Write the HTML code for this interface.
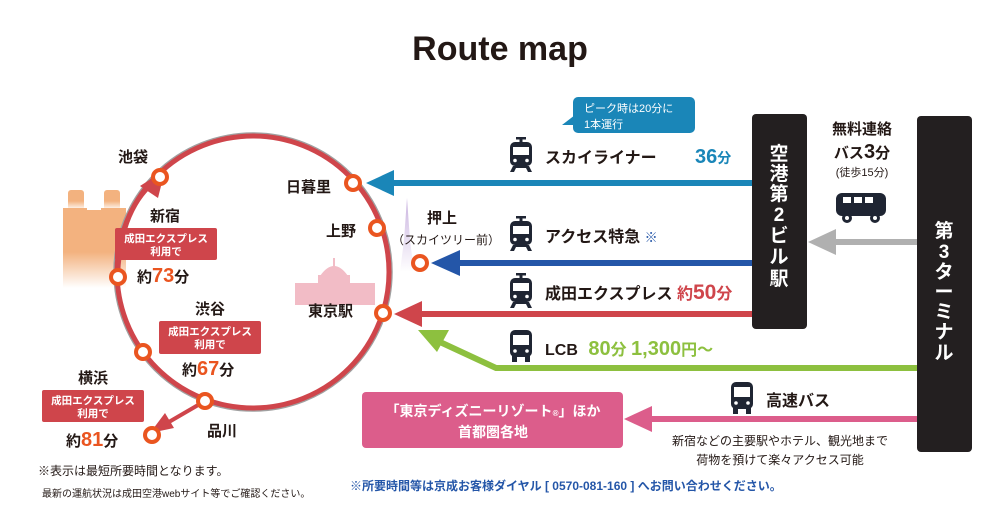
<!DOCTYPE html>
<html><head><meta charset="utf-8"><style>
html,body{margin:0;padding:0;background:#fff}
svg text{font-family:"Liberation Sans","Noto Sans CJK JP",sans-serif}
</style></head><body>
<svg width="1001" height="521" viewBox="0 0 1001 521" xmlns="http://www.w3.org/2000/svg">
<defs>
<symbol id="train" viewBox="0 0 26 36">
<rect x="8" y="0" width="10" height="2.5" fill="#1f2533"/>
<rect x="11.5" y="1" width="3" height="4" fill="#1f2533"/>
<rect x="2" y="5" width="22" height="24" rx="5" fill="#1f2533"/>
<rect x="5" y="10" width="16" height="8" fill="#fff"/>
<circle cx="7" cy="23.5" r="1.8" fill="#fff"/><circle cx="19" cy="23.5" r="1.8" fill="#fff"/>
<path d="M5 29 L2 35 H6 L8 31 H18 L20 35 H24 L21 29Z" fill="#1f2533"/>
</symbol>
<symbol id="bus" viewBox="0 0 26 32">
<rect x="2" y="0" width="22" height="27" rx="5" fill="#1f2533"/>
<rect x="5" y="5" width="16" height="10" fill="#fff"/>
<circle cx="7" cy="21" r="1.8" fill="#fff"/><circle cx="19" cy="21" r="1.8" fill="#fff"/>
<rect x="4" y="26" width="5" height="6" fill="#1f2533"/><rect x="17" y="26" width="5" height="6" fill="#1f2533"/>
</symbol>
<linearGradient id="og" x1="0" y1="0" x2="0" y2="1"><stop offset="0.55" stop-color="#f3b27f"/><stop offset="1" stop-color="#fff"/></linearGradient>
<linearGradient id="pg" x1="0" y1="0" x2="0" y2="1"><stop offset="0" stop-color="#c9b3df"/><stop offset="1" stop-color="#fff"/></linearGradient>
</defs>

<text x="500" y="60" font-size="34" font-weight="bold" text-anchor="middle" fill="#231815">Route map</text>

<!-- Tocho building -->
<g fill="url(#og)">
<rect x="68" y="190" width="16" height="20" rx="3"/>
<rect x="104" y="190" width="16" height="20" rx="3"/>
<rect x="63" y="208" width="63" height="80"/>
</g>
<rect x="87" y="196" width="14" height="14" fill="#fff"/>
<!-- skytree -->
<path d="M407 198 L404 240 L400 272 L414 272 L410 240Z" fill="url(#pg)"/>
<!-- Tokyo station -->
<g fill="#f2bcc6">
<rect x="295" y="283" width="80" height="22"/>
<rect x="318" y="275" width="32" height="10"/>
<path d="M320 276 q14-20 28 0z"/>
<rect x="333" y="258" width="2" height="10"/>
</g>

<!-- ring -->
<circle cx="253" cy="272" r="139" fill="none" stroke="#a0a0a0" stroke-width="1.5"/>
<circle cx="253" cy="272" r="136" fill="none" stroke="#cf454b" stroke-width="5"/>

<path d="M118 277 Q120 215 150 186" fill="none" stroke="#cf454b" stroke-width="4"/>
<path d="M165 170 L140 186 L158 198Z" fill="#cf454b"/>
<path d="M205 401 L162 426" fill="none" stroke="#cf454b" stroke-width="4"/>
<path d="M150 433 L165 413 L174 428Z" fill="#cf454b"/>

<g fill="#fff" stroke="#ea5520" stroke-width="4">
<circle cx="160" cy="177" r="7"/>
<circle cx="353" cy="183" r="7"/>
<circle cx="377" cy="228" r="7"/>
<circle cx="118" cy="277" r="7"/>
<circle cx="383" cy="313" r="7"/>
<circle cx="143" cy="352" r="7"/>
<circle cx="205" cy="401" r="7"/>
<circle cx="152" cy="435" r="7"/>
<circle cx="420" cy="263" r="7"/>
</g>

<g font-size="15" fill="#231815" font-weight="bold">
<text x="118" y="162">池袋</text>
<text x="286" y="192">日暮里</text>
<text x="326" y="236">上野</text>
<text x="427" y="223">押上</text>
<text x="308" y="316">東京駅</text>
<text x="150" y="221">新宿</text>
<text x="195" y="314">渋谷</text>
<text x="78" y="383">横浜</text>
<text x="207" y="436">品川</text>
</g>
<text x="392" y="244" font-size="12" fill="#231815">（スカイツリー前）</text>

<g fill="#cf454b"><rect x="115" y="228" width="102" height="32" rx="2"/><rect x="159" y="321" width="102" height="33" rx="2"/><rect x="42" y="390" width="102" height="32" rx="2"/></g>
<g font-size="10.5" fill="#fff" font-weight="bold" text-anchor="middle">
<text x="166" y="242">成田エクスプレス</text><text x="166" y="255">利用で</text>
<text x="210" y="335">成田エクスプレス</text><text x="210" y="348">利用で</text>
<text x="93" y="404">成田エクスプレス</text><text x="93" y="417">利用で</text>
</g>
<g font-size="15" font-weight="bold" fill="#231815">
<text x="137" y="282">約<tspan fill="#ea5520" font-size="20">73</tspan>分</text>
<text x="182" y="375">約<tspan fill="#ea5520" font-size="20">67</tspan>分</text>
<text x="66" y="446">約<tspan fill="#ea5520" font-size="20">81</tspan>分</text>
</g>

<rect x="390" y="180" width="362" height="6" fill="#1a86b8"/>
<path d="M366 183 L394 170 L394 196Z" fill="#1a86b8"/>
<rect x="455" y="260" width="297" height="6" fill="#2456a8"/>
<path d="M431 263 L460 250 L460 276Z" fill="#2456a8"/>
<rect x="415" y="311" width="337" height="6" fill="#cf454b"/>
<path d="M394 314 L422 301 L422 327Z" fill="#cf454b"/>
<path d="M917 368 L496 368 L440 342" fill="none" stroke="#8dc03f" stroke-width="6"/>
<path d="M418 330 L449 330 L437 352Z" fill="#8dc03f"/>
<rect x="830" y="239" width="88" height="6" fill="#b0b0b0"/>
<path d="M808 242 L836 229 L836 255Z" fill="#b0b0b0"/>
<rect x="645" y="416" width="273" height="6" fill="#dc5d8b"/>
<path d="M624 419 L652 406 L652 432Z" fill="#dc5d8b"/>

<rect x="573" y="97" width="122" height="36" rx="5" fill="#1a86b8"/>
<path d="M575 115 L562 125 L578 125Z" fill="#1a86b8"/>
<text x="584" y="112" font-size="11" fill="#fff">ピーク時は20分に</text>
<text x="584" y="128" font-size="11" fill="#fff">1本運行</text>

<use href="#train" x="508" y="137" width="26" height="36"/>
<use href="#train" x="508" y="216" width="26" height="36"/>
<use href="#train" x="508" y="273" width="26" height="36"/>
<use href="#bus" x="508" y="330" width="26" height="32"/>
<use href="#bus" x="729" y="382" width="26" height="32"/>

<g font-size="16" font-weight="bold" fill="#231815">
<text x="545" y="163">スカイライナー</text>
<text x="545" y="242">アクセス特急 <tspan fill="#2456a8" font-size="13">※</tspan></text>
<text x="545" y="299">成田エクスプレス <tspan fill="#cf454b">約<tspan font-size="21">50</tspan>分</tspan></text>
<text x="545" y="355">LCB <tspan fill="#8dc03f" dx="6"><tspan font-size="20">80</tspan>分 <tspan font-size="20">1,300</tspan>円～</tspan></text>
<text x="766" y="406">高速バス</text>
</g>
<text x="695" y="163" font-size="20" font-weight="bold" fill="#1a86b8">36<tspan font-size="14">分</tspan></text>

<rect x="752" y="114" width="55" height="215" rx="4" fill="#231f20"/>
<rect x="917" y="116" width="55" height="336" rx="4" fill="#231f20"/>
<g font-size="19" font-weight="bold" fill="#fff" text-anchor="middle">
<text x="779" y="160">空</text><text x="779" y="180">港</text><text x="779" y="200">第</text><text x="779" y="221">2</text><text x="779" y="242">ビ</text><text x="779" y="263">ル</text><text x="779" y="285">駅</text>
<text x="944" y="237">第</text><text x="944" y="258">3</text><text x="944" y="278">タ</text><text x="944" y="298">ー</text><text x="944" y="318">ミ</text><text x="944" y="338">ナ</text><text x="944" y="359">ル</text>
</g>

<g fill="#231815" text-anchor="middle" font-weight="bold">
<text x="862" y="134" font-size="15">無料連絡</text>
<text x="862" y="158" font-size="15">バス<tspan font-size="20">3</tspan>分</text>
<text x="862" y="176" font-size="11" font-weight="normal">(徒歩15分)</text>
</g>
<g fill="#1f2533">
<rect x="836" y="193" width="50" height="23" rx="6"/>
<circle cx="847" cy="218" r="5"/><circle cx="875" cy="218" r="5"/>
</g>
<g fill="#fff"><rect x="843" y="197" width="8" height="6"/><rect x="854" y="197" width="8" height="6"/><rect x="865" y="197" width="8" height="6"/><circle cx="847" cy="218" r="2"/><circle cx="875" cy="218" r="2"/></g>

<rect x="362" y="392" width="261" height="56" rx="4" fill="#dc5d8b"/>
<g fill="#fff" font-size="14" font-weight="bold" text-anchor="middle">
<text x="493" y="416">「東京ディズニーリゾート<tspan font-size="8">®</tspan>」ほか</text>
<text x="493" y="437">首都圏各地</text>
</g>
<g font-size="12" fill="#231815" text-anchor="middle">
<text x="780" y="445">新宿などの主要駅やホテル、観光地まで</text>
<text x="780" y="464">荷物を預けて楽々アクセス可能</text>
</g>

<text x="38" y="475" font-size="12" fill="#231815">※表示は最短所要時間となります。</text>
<text x="42" y="497" font-size="10" fill="#231815">最新の運航状況は成田空港webサイト等でご確認ください。</text>
<text x="350" y="490" font-size="12" font-weight="bold" fill="#2456a8">※所要時間等は京成お客様ダイヤル [ 0570-081-160 ] へお問い合わせください。</text>
</svg>
</body></html>
